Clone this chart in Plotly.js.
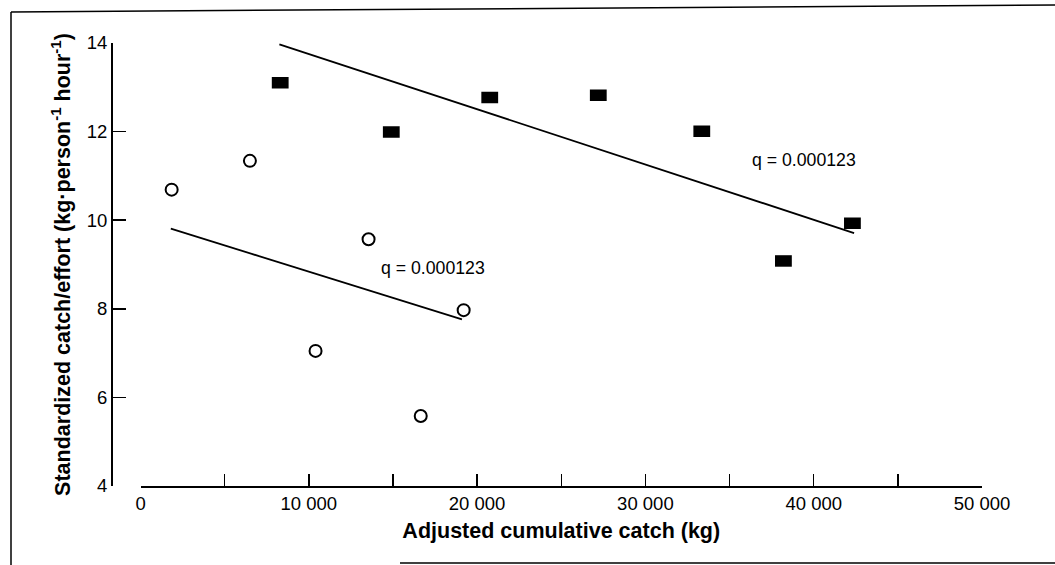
<!DOCTYPE html>
<html>
<head>
<meta charset="utf-8">
<script src="https://cdn.plot.ly/plotly-3.0.1.min.js"></script>
<style>
html,body{margin:0;padding:0;background:#fff;}
#chart{width:1055px;height:565px;}
</style>
</head>
<body>
<div id="chart"></div>
<script>
// Open circles (first period)
var circleX = [1850, 6500, 10400, 13550, 16650, 19200];
var circleY = [10.69, 11.34, 7.05, 9.57, 5.58, 7.97];
// Filled rectangles (second period)
var squareX = [8300, 14900, 20750, 27200, 33350, 38200, 42300];
var squareY = [13.10, 11.99, 12.77, 12.82, 12.01, 9.08, 9.93];
// Fitted lines
var fitLowX = [1800, 19100];
var fitLowY = [9.81, 7.76];
var fitHighX = [8250, 42400];
var fitHighY = [13.97, 9.71];
// Labels
var qLabel = 'q = 0.000123';
var xTitle = 'Adjusted cumulative catch (kg)';
var yTitle = 'Standardized catch/effort (kg·person<sup>-1</sup> hour<sup>-1</sup>)';

var FONT = '"Liberation Sans", Arial, Helvetica, sans-serif';

var traces = [
  {x: fitLowX, y: fitLowY, mode: 'lines', line: {color: '#000', width: 1.8}, hoverinfo: 'skip', showlegend: false},
  {x: fitHighX, y: fitHighY, mode: 'lines', line: {color: '#000', width: 1.8}, hoverinfo: 'skip', showlegend: false},
  {x: circleX, y: circleY, mode: 'markers', showlegend: false,
   marker: {symbol: 'circle-open', size: 12, color: '#000', line: {color: '#000', width: 2}}},
  {x: squareX, y: squareY, mode: 'markers', showlegend: false,
   marker: {symbol: 'line-ew', size: 12, color: '#000', line: {color: '#000', width: 11.5}}}
];

function px(x){ return (x - 111) / 871; }
function py(y){ return (486 - y) / 443; }

var layout = {
  width: 1055, height: 565,
  margin: {l: 111, r: 73, t: 43, b: 79},
  paper_bgcolor: '#fff', plot_bgcolor: '#fff',
  separators: '. ',
  font: {family: FONT, color: '#000', size: 18},
  showlegend: false,
  xaxis: {
    domain: [0.0339, 1],
    range: [0, 50000],
    tick0: 0, dtick: 10000,
    tickformat: ',d',
    ticks: 'inside', ticklen: 12, tickwidth: 1.5, tickcolor: '#000',
    minor: {dtick: 5000, ticks: 'inside', ticklen: 12, tickwidth: 1.5, tickcolor: '#000'},
    showline: true, linecolor: '#000', linewidth: 1.8,
    showgrid: false, zeroline: false,
    tickfont: {family: FONT, size: 18.5},
    title: {text: xTitle, font: {family: FONT, size: 21.5, weight: 'bold'}, standoff: 10},
    automargin: false
  },
  yaxis: {
    anchor: 'free', position: 0,
    range: [4, 14],
    tick0: 4, dtick: 2,
    ticks: 'inside', ticklen: 13, tickwidth: 1.5, tickcolor: '#000',
    showline: true, linecolor: '#000', linewidth: 1.8,
    showgrid: false, zeroline: false,
    tickfont: {family: FONT, size: 18.5},
    title: {text: yTitle, font: {family: FONT, size: 21.5, weight: 'bold'}, standoff: 8},
    automargin: false
  },
  annotations: [
    {x: 39420, y: 11.35, xref: 'x', yref: 'y', text: qLabel, showarrow: false,
     font: {family: FONT, size: 17.7}},
    {x: 17380, y: 8.91, xref: 'x', yref: 'y', text: qLabel, showarrow: false,
     font: {family: FONT, size: 17.7}}
  ],
  shapes: [
    {type: 'line', xref: 'paper', yref: 'paper', x0: px(11), y0: py(12), x1: px(1055), y1: py(5),
     line: {color: '#000', width: 1.5}},
    {type: 'line', xref: 'paper', yref: 'paper', x0: px(11), y0: py(12), x1: px(11), y1: py(565),
     line: {color: '#000', width: 1.5}},
    {type: 'line', xref: 'paper', yref: 'paper', x0: px(400), y0: py(563), x1: px(1055), y1: py(563),
     line: {color: '#000', width: 1.5}}
  ]
};

Plotly.newPlot('chart', traces, layout, {displayModeBar: false, staticPlot: true});
</script>
</body>
</html>
